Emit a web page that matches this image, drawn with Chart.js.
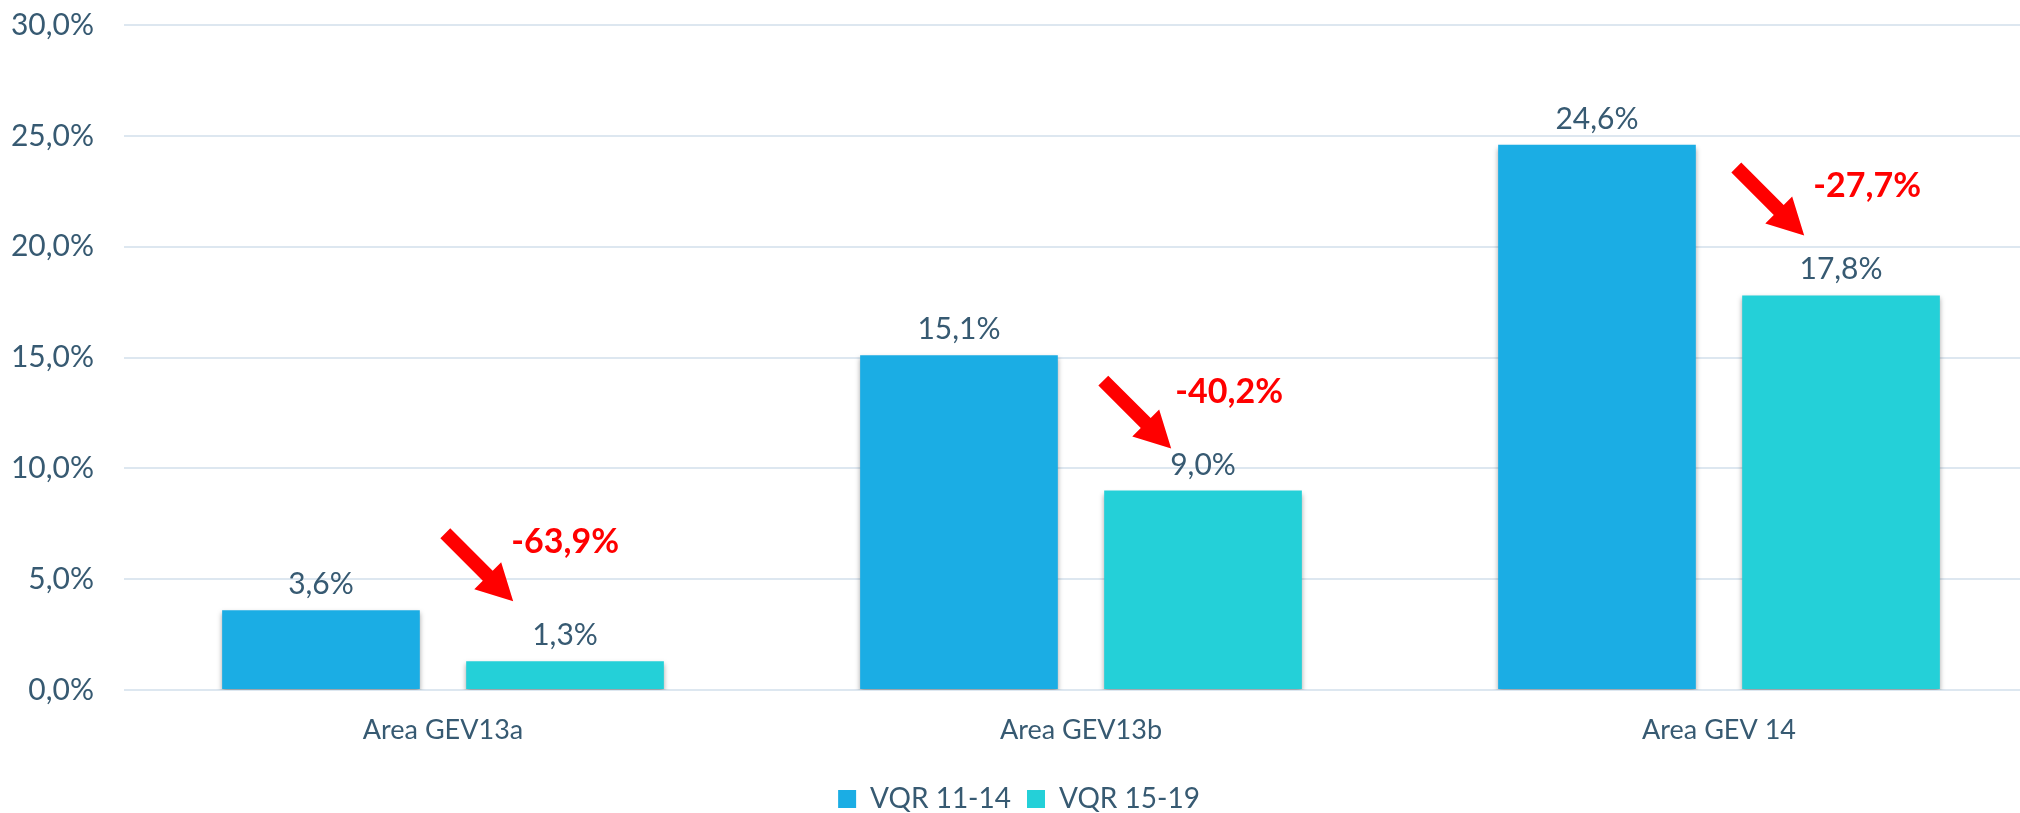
<!DOCTYPE html>
<html>
<head>
<meta charset="utf-8">
<script src="https://cdn.jsdelivr.net/npm/chart.js@4"></script>
<style>
  html, body { margin: 0; padding: 0; background: #fff; overflow: hidden; }
  #wrap { width: 2074px; height: 846px; margin-top: -23px; }
</style>
</head>
<body>
<div id="wrap"><canvas id="chart"></canvas></div>
<script>
var categories = ['Area GEV13a', 'Area GEV13b', 'Area GEV 14'];
var seriesNames = ['VQR 11-14', 'VQR 15-19'];
var vqr1114 = [3.6, 15.1, 24.6];
var vqr1519 = [1.3, 9.0, 17.8];
var changeLabels = ['-63,9%', '-40,2%', '-27,7%'];
var yTicks = [0, 5, 10, 15, 20, 25, 30];

var textColor = '#375A72';
var fontName = 'Lato, "Open Sans", sans-serif';

function fmt(v) {
    return v.toFixed(1).replace('.', ',') + '%';
}

// arrow tip offset from the left/top corner of the teal bar, then text offset from tip
var arrowShift = [[47, -60], [67, -42], [62, -60]];
var textShift = [[52, -59], [58, -56], [63, -49]];

function drawArrow(ctx, tipX, tipY) {
    var len = 96, shaft = 14, headW = 38, headL = 36;
    ctx.save();
    ctx.translate(tipX, tipY);
    ctx.rotate(Math.PI / 4);
    // arrow pointing along +x, tip at origin
    ctx.beginPath();
    ctx.moveTo(0, 0);
    ctx.lineTo(-headL, -headW / 2);
    ctx.lineTo(-headL, -shaft / 2);
    ctx.lineTo(-len, -shaft / 2);
    ctx.lineTo(-len, shaft / 2);
    ctx.lineTo(-headL, shaft / 2);
    ctx.lineTo(-headL, headW / 2);
    ctx.closePath();
    ctx.fillStyle = '#FF0000';
    ctx.fill();
    ctx.restore();
}

var annotate = {
    id: 'annotate',
    beforeDatasetsDraw: function(chart) {
        var ctx = chart.ctx;
        ctx.save();
        ctx.shadowColor = 'rgba(0,0,0,0.35)';
        ctx.shadowBlur = 5;
        ctx.shadowOffsetY = 3;
    },
    afterDatasetsDraw: function(chart) {
        var ctx = chart.ctx;
        ctx.restore();

        ctx.save();
        ctx.font = '30px ' + fontName;
        ctx.fillStyle = textColor;
        ctx.textAlign = 'center';
        ctx.textBaseline = 'alphabetic';
        chart.data.datasets.forEach(function(ds, i) {
            chart.getDatasetMeta(i).data.forEach(function(bar, j) {
                ctx.fillText(fmt(ds.data[j]), bar.x, bar.y - 16);
            });
        });

        // red arrows + change labels
        ctx.font = 'bold 34px ' + fontName;
        ctx.textBaseline = 'middle';
        chart.getDatasetMeta(1).data.forEach(function(bar, j) {
            var left = bar.x - bar.width / 2;
            var tipX = left + arrowShift[j][0];
            var tipY = bar.y + arrowShift[j][1];
            drawArrow(ctx, tipX, tipY);
            ctx.fillStyle = '#FF0000';
            ctx.fillText(changeLabels[j], tipX + textShift[j][0], tipY + textShift[j][1]);
        });
        ctx.restore();
    }
};

var data = {
    labels: categories,
    datasets: [{
        label: seriesNames[0],
        data: vqr1114,
        backgroundColor: '#1BADE4'
    }, {
        label: seriesNames[1],
        data: vqr1519,
        backgroundColor: '#24D0D8'
    }]
};

var ctx = document.getElementById('chart').getContext('2d');

new Chart(ctx, {
    type: 'bar',
    data: data,
    plugins: [annotate],
    options: {
        responsive: true,
        maintainAspectRatio: false,
        animation: false,
        categoryPercentage: 0.765,
        barPercentage: 0.81,
        layout: {
            padding: { top: 0, right: 36, left: 0, bottom: 0 }
        },
        plugins: {
            legend: {
                position: 'bottom',
                labels: {
                    color: textColor,
                    font: { family: fontName, size: 28 },
                    boxWidth: 18,
                    boxHeight: 18,
                    padding: 16
                }
            },
            tooltip: { enabled: false }
        },
        scales: {
            x: {
                grid: { display: false, drawTicks: false },
                border: { display: false },
                afterFit: function(scale) { scale.height = 79; },
                ticks: {
                    color: textColor,
                    font: { family: fontName, size: 27 },
                    padding: 24
                }
            },
            y: {
                min: 0,
                max: 30,
                afterFit: function(scale) { scale.width = 124; },
                afterBuildTicks: function(scale) {
                    scale.ticks = yTicks.map(function(v) { return { value: v }; });
                },
                grid: { color: '#DDE7F0', lineWidth: 2, drawTicks: false },
                border: { display: false },
                ticks: {
                    color: textColor,
                    font: { family: fontName, size: 30 },
                    padding: 30,
                    callback: function(v) { return fmt(v); }
                }
            }
        }
    }
});
</script>
</body>
</html>
